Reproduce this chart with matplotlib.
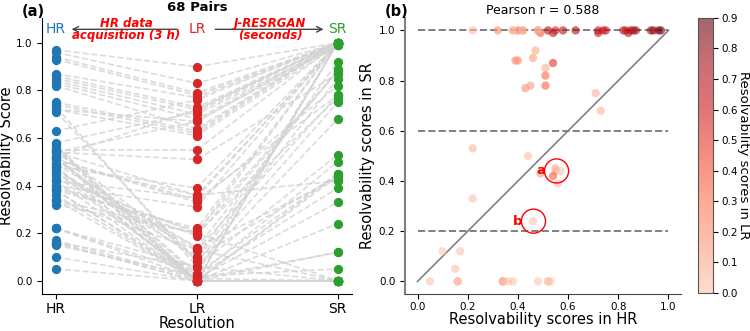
import matplotlib
matplotlib.use('Agg')

import matplotlib.pyplot as plt
import numpy as np
from matplotlib.colors import LinearSegmentedColormap
from matplotlib.patches import Circle

# paired resolvability scores (68 pairs)
hr = [0.97, 0.96, 0.94, 0.93, 0.87, 0.86, 0.85, 0.84, 0.83, 0.82,
      0.75, 0.74, 0.72, 0.72, 0.63, 0.58, 0.55, 0.54, 0.52, 0.49,
      0.48, 0.42, 0.40, 0.38, 0.32, 0.22,
      0.22, 0.39, 0.40, 0.47, 0.46, 0.43, 0.45, 0.51, 0.54, 0.51,
      0.51, 0.71, 0.73, 0.44, 0.55, 0.55, 0.54, 0.49, 0.56, 0.22,
      0.46, 0.10, 0.17, 0.15,
      0.05, 0.16, 0.16, 0.34, 0.34, 0.36, 0.38, 0.48, 0.52, 0.53,
      0.48, 0.42, 0.38, 0.55, 0.57, 0.34, 0.52, 0.16]
lr = [0.90, 0.83, 0.79, 0.78, 0.77, 0.73, 0.72, 0.70, 0.68, 0.64,
      0.63, 0.62, 0.61, 0.67, 0.76, 0.71, 0.55, 0.67, 0.72, 0.36,
      0.39, 0.35, 0.31, 0.22, 0.20, 0.03,
      0.06, 0.21, 0.19, 0.10, 0.14, 0.20, 0.13, 0.09, 0.51, 0.33,
      0.34, 0.08, 0.06, 0.02, 0.03, 0.10, 0.36, 0.14, 0.02, 0.01,
      0.00, 0.00, 0.01, 0.02,
      0.00, 0.00, 0.06, 0.20, 0.13, 0.00, 0.01, 0.00, 0.00, 0.00,
      0.00, 0.00, 0.00, 0.00, 0.00, 0.00, 0.00, 0.00]
sr = [1.00, 1.00, 1.00, 1.00, 1.00, 1.00, 1.00, 0.99, 1.00, 1.00,
      1.00, 1.00, 0.99, 1.00, 1.00, 1.00, 1.00, 0.99, 1.00, 0.99,
      1.00, 1.00, 1.00, 1.00, 1.00, 1.00,
      0.53, 0.88, 0.88, 0.92, 0.89, 0.77, 0.78, 0.85, 0.87, 0.82,
      0.78, 0.75, 0.68, 0.50, 0.45, 0.44, 0.42, 0.43, 0.39, 0.33,
      0.24, 0.12, 0.12, 0.05,
      0.00, 0.00, 0.00, 0.00, 0.00, 0.00, 0.00, 0.00, 0.00, 0.00,
      1.00, 1.00, 1.00, 0.45, 0.44, 0.00, 0.00, 0.00]

stages = ['HR', 'LR', 'SR']
stage_colors = ['tab:blue', 'tab:red', 'tab:green']
pearson_r = 0.588
thresholds = [1.0, 0.6, 0.2]

fig = plt.figure(figsize=(7.5, 3.31), dpi=100)
ax1 = fig.add_axes([0.056, 0.112, 0.413, 0.834])
ax2 = fig.add_axes([0.54, 0.112, 0.368, 0.834])
cax = fig.add_axes([0.931, 0.115, 0.02, 0.831])

# ---- panel (a) ----
x_pos = np.arange(3)
for h, l, s in zip(hr, lr, sr):
    ax1.plot(x_pos, [h, l, s], color='lightgray', linestyle='--', linewidth=1.2, alpha=0.8, zorder=1)
for i, vals in enumerate([hr, lr, sr]):
    ax1.scatter(np.full(len(vals), x_pos[i]), vals, color=stage_colors[i], s=32, zorder=3)

ax1.set_xlim(-0.1, 2.1)
ax1.set_ylim(-0.055, 1.105)
ax1.set_xticks(x_pos)
ax1.set_xticklabels(stages, fontsize=10)
ax1.tick_params(axis='y', labelsize=7.5)
ax1.tick_params(axis='x', pad=2)
ax1.set_xlabel('Resolution', fontsize=10.5, labelpad=0)
ax1.set_ylabel('Resolvability Score', fontsize=10.5, labelpad=1)
ax1.set_title('68 Pairs', fontsize=9.5, fontweight='bold', pad=5)
ax1.spines['top'].set_visible(False)
ax1.spines['right'].set_visible(False)

y_top = 1.057
for i, name in enumerate(stages):
    ax1.text(x_pos[i], y_top, name, color=stage_colors[i], fontsize=10, ha='center', va='center')
ax1.annotate('', xy=(0.09, y_top), xytext=(0.88, y_top),
             arrowprops=dict(arrowstyle='->', color='#444444', lw=1))
ax1.annotate('', xy=(1.92, y_top), xytext=(1.11, y_top),
             arrowprops=dict(arrowstyle='->', color='#444444', lw=1))
ax1.text(0.5, y_top, 'HR data\nacquisition (3 h)', color='red', fontsize=8.5,
         fontweight='bold', style='italic', ha='center', va='center', linespacing=0.95)
ax1.text(1.52, y_top, 'J-RESRGAN\n(seconds)', color='red', fontsize=8.5,
         fontweight='bold', style='italic', ha='center', va='center', linespacing=0.95)
fig.text(0.029, 0.964, '(a)', fontsize=10.5, fontweight='bold', va='center')

# ---- panel (b) ----
base = plt.get_cmap('Reds')
cmap = LinearSegmentedColormap.from_list('reds_trunc', base(np.linspace(0.22, 1.0, 256)))

for t in thresholds:
    ax2.plot([0, 1], [t, t], color='gray', linestyle='--', linewidth=1.4, zorder=1)
ax2.plot([0, 1], [0, 1], color='gray', linewidth=1.2, zorder=1)
sc = ax2.scatter(hr, sr, c=lr, cmap=cmap, vmin=0, vmax=0.9, alpha=0.6, s=36,
                 edgecolors='none', zorder=2)

ax2.add_patch(Circle((0.554, 0.44), 0.048, fill=False, edgecolor='red', linewidth=1, zorder=3))
ax2.add_patch(Circle((0.462, 0.24), 0.048, fill=False, edgecolor='red', linewidth=1, zorder=3))
ax2.text(0.49, 0.44, 'a', color='red', fontsize=9.5, fontweight='bold', ha='center', va='center')
ax2.text(0.40, 0.24, 'b', color='red', fontsize=9.5, fontweight='bold', ha='center', va='center')

ax2.set_xlim(-0.05, 1.05)
ax2.set_ylim(-0.05, 1.05)
ax2.set_xticks(np.arange(0, 1.01, 0.2))
ax2.set_yticks(np.arange(0, 1.01, 0.2))
ax2.tick_params(labelsize=7.5)
ax2.tick_params(axis='x', pad=2)
ax2.set_xlabel('Resolvability scores in HR', fontsize=10.5, labelpad=0)
ax2.set_ylabel('Resolvability scores in SR', fontsize=10.5, labelpad=3)
ax2.set_title('Pearson r = %.3f' % pearson_r, fontsize=9, pad=3)
ax2.spines['top'].set_visible(False)
ax2.spines['right'].set_visible(False)
ax2.spines['left'].set_color('gray')
ax2.spines['left'].set_linewidth(1.5)
ax2.spines['bottom'].set_color('#444444')
fig.text(0.513, 0.964, '(b)', fontsize=10.5, fontweight='bold', va='center')

cb = fig.colorbar(sc, cax=cax)
cb.set_ticks(np.arange(0, 0.91, 0.1))
cb.ax.tick_params(labelsize=7.5, pad=2)
cb.outline.set_edgecolor('#555555')
cb.set_label('Resolvability scores in LR', fontsize=9.5, rotation=270, labelpad=9)

fig.savefig('out.png', dpi=100)
